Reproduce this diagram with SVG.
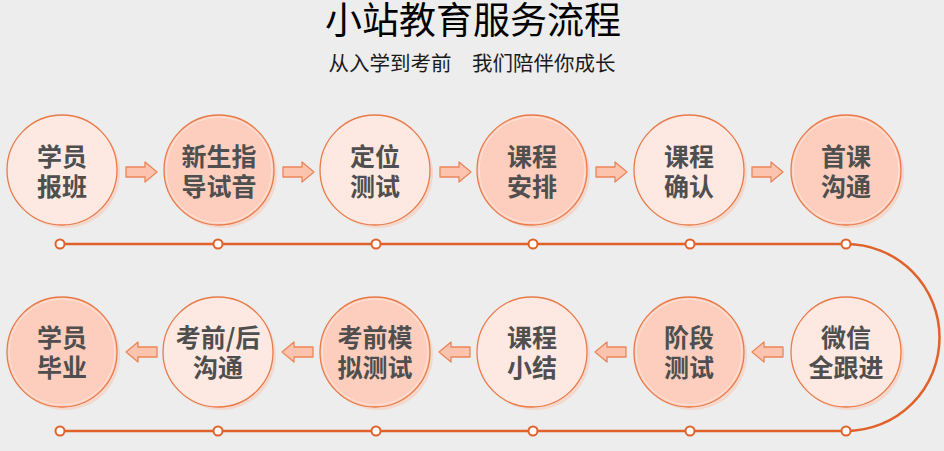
<svg xmlns="http://www.w3.org/2000/svg" width="944" height="451" viewBox="0 0 944 451">
<style>
.bg{fill:#EDEDED}
.title{font-family:"Noto Sans CJK SC","Noto Sans",sans-serif;font-size:37px;fill:#000;text-anchor:middle}
.sub{font-family:"Noto Sans CJK SC","Noto Sans",sans-serif;font-size:20.5px;fill:#1a1a1a;text-anchor:middle}
.shadow{fill:#F5D2C4;opacity:0.8}
.light{fill:#FDE9E1;stroke:#E97A48;stroke-width:1.3}
.dark{fill:#FDCEBD;stroke:#E97A48;stroke-width:1.3}
.inner{fill:none;stroke:#fff;stroke-opacity:0.45;stroke-width:1}
.lbl{font-family:"Noto Sans CJK SC","Noto Sans",sans-serif;font-size:25px;font-weight:bold;fill:#4f4f4f;text-anchor:middle}
.arrow{fill:#FCC4AF;stroke:#EC8558;stroke-width:1.3;stroke-linejoin:round}
.track{fill:none;stroke:#E0622A;stroke-width:2.5}
.dot{fill:#fff;stroke:#E0622A;stroke-width:2}
</style>
<defs>
<path id="arr" d="M0,-5 H19 V-10 L31,0 L19,10 V5 H0 Z"/>
</defs>
<rect class="bg" x="0" y="0" width="944" height="451"/>
<text class="title" x="473" y="34">小站教育服务流程</text>
<text class="sub" x="472" y="71">从入学到考前　我们陪伴你成长</text>

<g id="connectors">
<path class="track" d="M60,244 H846 A93.5,93.5 0 0 1 846,431 H60"/>
<g>
<circle class="dot" cx="60" cy="244" r="4.5"/>
<circle class="dot" cx="218" cy="244" r="4.5"/>
<circle class="dot" cx="376" cy="244" r="4.5"/>
<circle class="dot" cx="533" cy="244" r="4.5"/>
<circle class="dot" cx="690" cy="244" r="4.5"/>
<circle class="dot" cx="846" cy="244" r="4.5"/>
<circle class="dot" cx="60" cy="431" r="4.5"/>
<circle class="dot" cx="218" cy="431" r="4.5"/>
<circle class="dot" cx="376" cy="431" r="4.5"/>
<circle class="dot" cx="533" cy="431" r="4.5"/>
<circle class="dot" cx="690" cy="431" r="4.5"/>
<circle class="dot" cx="846" cy="431" r="4.5"/>
</g>
<use href="#arr" class="arrow" transform="translate(126,172)"/>
<use href="#arr" class="arrow" transform="translate(283,172)"/>
<use href="#arr" class="arrow" transform="translate(440,172)"/>
<use href="#arr" class="arrow" transform="translate(596,172)"/>
<use href="#arr" class="arrow" transform="translate(752,172)"/>
<use href="#arr" class="arrow" transform="translate(783,352) scale(-1,1)"/>
<use href="#arr" class="arrow" transform="translate(626,352) scale(-1,1)"/>
<use href="#arr" class="arrow" transform="translate(470,352) scale(-1,1)"/>
<use href="#arr" class="arrow" transform="translate(313,352) scale(-1,1)"/>
<use href="#arr" class="arrow" transform="translate(157,352) scale(-1,1)"/>
</g>

<g id="n1"><circle class="shadow" cx="65" cy="173" r="55"/><circle class="light" cx="62" cy="170" r="55"/><text class="lbl" x="62" y="166">学员</text><text class="lbl" x="62" y="196">报班</text></g>
<g id="n2"><circle class="shadow" cx="222" cy="173" r="55"/><circle class="dark" cx="219" cy="170" r="55"/><circle class="inner" cx="219" cy="170" r="53"/><text class="lbl" x="219" y="166">新生指</text><text class="lbl" x="219" y="196">导试音</text></g>
<g id="n3"><circle class="shadow" cx="378" cy="173" r="55"/><circle class="light" cx="375" cy="170" r="55"/><text class="lbl" x="375" y="166">定位</text><text class="lbl" x="375" y="196">测试</text></g>
<g id="n4"><circle class="shadow" cx="535" cy="173" r="55"/><circle class="dark" cx="532" cy="170" r="55"/><circle class="inner" cx="532" cy="170" r="53"/><text class="lbl" x="532" y="166">课程</text><text class="lbl" x="532" y="196">安排</text></g>
<g id="n5"><circle class="shadow" cx="692" cy="173" r="55"/><circle class="light" cx="689" cy="170" r="55"/><text class="lbl" x="689" y="166">课程</text><text class="lbl" x="689" y="196">确认</text></g>
<g id="n6"><circle class="shadow" cx="849" cy="173" r="55"/><circle class="dark" cx="846" cy="170" r="55"/><circle class="inner" cx="846" cy="170" r="53"/><text class="lbl" x="846" y="166">首课</text><text class="lbl" x="846" y="196">沟通</text></g>

<g id="n7"><circle class="shadow" cx="849" cy="355" r="55"/><circle class="light" cx="846" cy="352" r="55"/><text class="lbl" x="846" y="347">微信</text><text class="lbl" x="846" y="377">全跟进</text></g>
<g id="n8"><circle class="shadow" cx="692" cy="355" r="55"/><circle class="dark" cx="689" cy="352" r="55"/><circle class="inner" cx="689" cy="352" r="53"/><text class="lbl" x="689" y="347">阶段</text><text class="lbl" x="689" y="377">测试</text></g>
<g id="n9"><circle class="shadow" cx="535" cy="355" r="55"/><circle class="light" cx="532" cy="352" r="55"/><text class="lbl" x="532" y="347">课程</text><text class="lbl" x="532" y="377">小结</text></g>
<g id="n10"><circle class="shadow" cx="378" cy="355" r="55"/><circle class="dark" cx="375" cy="352" r="55"/><circle class="inner" cx="375" cy="352" r="53"/><text class="lbl" x="375" y="347">考前模</text><text class="lbl" x="375" y="377">拟测试</text></g>
<g id="n11"><circle class="shadow" cx="221" cy="355" r="55"/><circle class="light" cx="218" cy="352" r="55"/><text class="lbl" x="218" y="347">考前/后</text><text class="lbl" x="218" y="377">沟通</text></g>
<g id="n12"><circle class="shadow" cx="65" cy="355" r="55"/><circle class="dark" cx="62" cy="352" r="55"/><circle class="inner" cx="62" cy="352" r="53"/><text class="lbl" x="62" y="347">学员</text><text class="lbl" x="62" y="377">毕业</text></g>
</svg>
